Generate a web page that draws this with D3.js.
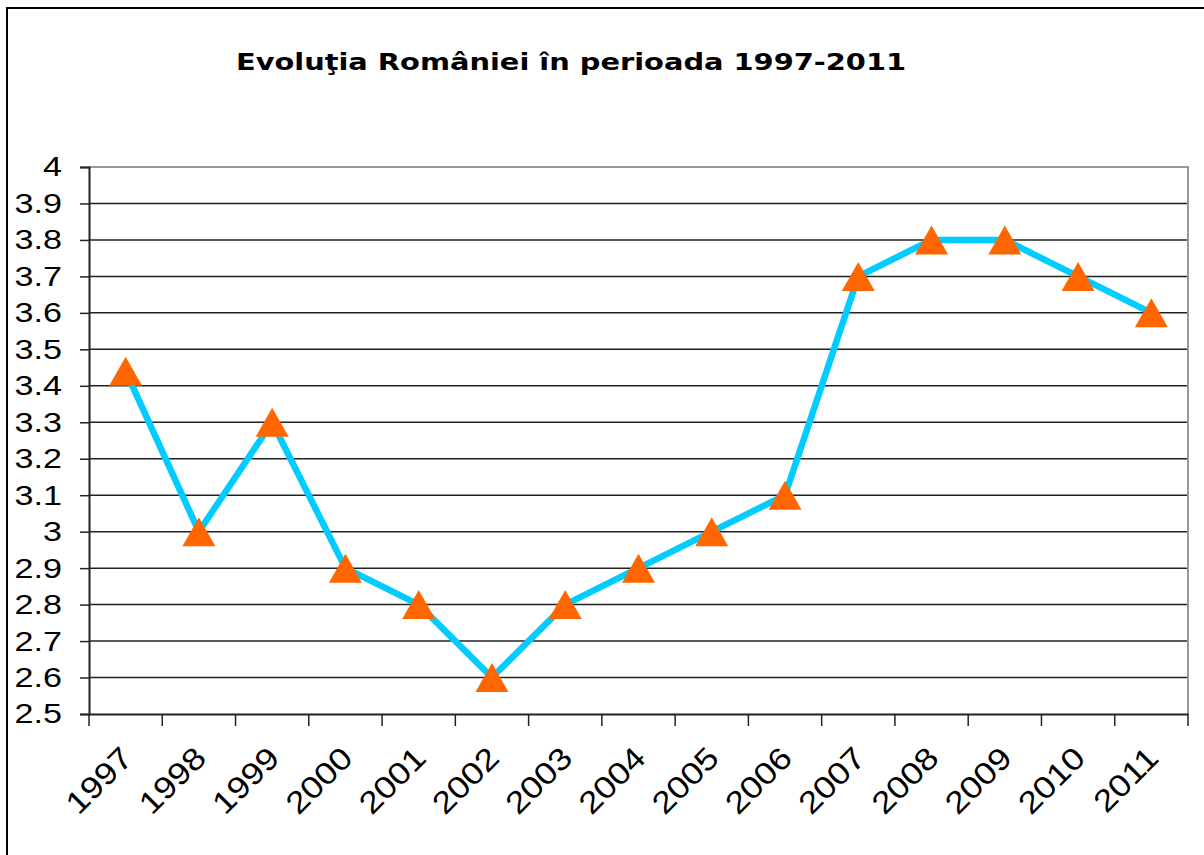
<!DOCTYPE html>
<html>
<head>
<meta charset="utf-8">
<script src="https://cdn.jsdelivr.net/npm/d3@7"></script>
<style>
  body { margin: 0; background: #fff; }
</style>
</head>
<body>
<script>
const w = 1204;
const h = 855;

// data
const years = ["1997", "1998", "1999", "2000", "2001", "2002", "2003", "2004",
  "2005", "2006", "2007", "2008", "2009", "2010", "2011"];
const values = [3.44, 3.0, 3.3, 2.9, 2.8, 2.6, 2.8, 2.9, 3.0, 3.1, 3.7, 3.8, 3.8, 3.7, 3.6];
const yTicks = [2.5, 2.6, 2.7, 2.8, 2.9, 3, 3.1, 3.2, 3.3, 3.4, 3.5, 3.6, 3.7, 3.8, 3.9, 4];
const title = "Evoluţia României în perioada 1997-2011";

const plotLeft = 89, plotRight = 1188, plotTop = 167, plotBottom = 714;
const stretch = 1.22; // the picture is a bit wider than tall

const svg = d3.select("body").append("svg").attr("width", w).attr("height", h);

// outer frame
svg.append("rect")
  .attr("x", 7).attr("y", 8)
  .attr("width", w + 10).attr("height", h + 10)
  .attr("fill", "none").attr("stroke", "#000").attr("stroke-width", 2);

svg.append("text")
  .attr("transform", "translate(571,70) scale(1.255,1)")
  .attr("text-anchor", "middle")
  .attr("font-family", "DejaVu Sans")
  .attr("font-weight", "bold")
  .attr("font-size", 23)
  .text(title);

// scales
const xScale = d3.scaleBand().domain(years).range([plotLeft, plotRight]);
const yScale = d3.scaleLinear().domain([2.5, 4]).range([plotBottom, plotTop]);

// gridlines
svg.append("g")
  .selectAll("line")
  .data(yTicks.slice(1, -1))
  .enter()
  .append("line")
  .attr("x1", plotLeft).attr("x2", plotRight)
  .attr("y1", (d) => yScale(d)).attr("y2", (d) => yScale(d))
  .attr("stroke", "#222").attr("stroke-width", 1.5);

// plot border (top + right)
svg.append("path")
  .attr("d", "M" + plotLeft + "," + yScale(4) + "H" + plotRight + "V" + plotBottom)
  .attr("fill", "none").attr("stroke", "#999").attr("stroke-width", 2);

// axes
const yAxis = d3.axisLeft(yScale).tickValues(yTicks).tickSize(9)
  .tickFormat((d) => String(d));
const gy = svg.append("g")
  .attr("transform", "translate(" + plotLeft + ",0)")
  .call(yAxis);
gy.select(".domain").attr("stroke", "#222").attr("stroke-width", 2);
gy.selectAll(".tick line").attr("stroke", "#222").attr("stroke-width", 1.5);
gy.selectAll(".tick text")
  .attr("x", 0)
  .attr("transform", "translate(-27,0) scale(" + stretch + ",1)")
  .attr("font-family", "Liberation Sans, Arial")
  .attr("font-size", 28)
  .attr("fill", "#000");

const xAxis = d3.axisBottom(xScale).tickSize(0).tickFormat("");
const gx = svg.append("g")
  .attr("transform", "translate(0," + plotBottom + ")")
  .call(xAxis);
gx.select(".domain").attr("stroke", "#222").attr("stroke-width", 2);

// category boundary ticks
svg.append("g")
  .selectAll("line")
  .data(years.concat(["end"]))
  .enter()
  .append("line")
  .attr("x1", (d, i) => plotLeft + i * xScale.step())
  .attr("x2", (d, i) => plotLeft + i * xScale.step())
  .attr("y1", plotBottom).attr("y2", plotBottom + 12)
  .attr("stroke", "#222").attr("stroke-width", 1.5);

// rotated labels
svg.append("g")
  .selectAll("text")
  .data(years)
  .enter()
  .append("text")
  .attr("transform", (d) => "translate(" + (xScale(d) + xScale.bandwidth() / 2 + 9) + "," + (plotBottom + 46) + ") rotate(-45) scale(1.15,1)")
  .attr("text-anchor", "end")
  .attr("font-family", "Liberation Sans, Arial")
  .attr("font-size", 31)
  .text((d) => d);

// line
const cx = (i) => xScale(years[i]) + xScale.bandwidth() / 2;
const line = d3.line()
  .x((d, i) => cx(i))
  .y((d) => yScale(d));

svg.append("path")
  .datum(values)
  .attr("d", line)
  .attr("fill", "none")
  .attr("stroke", "#00CCFF")
  .attr("stroke-width", 6.5)
  .attr("stroke-linejoin", "round");

// triangle markers, box centred on the point
const triangle = {
  draw(context) {
    context.moveTo(0, -14.5);
    context.lineTo(16.5, 14.5);
    context.lineTo(-16.5, 14.5);
    context.closePath();
  }
};
svg.append("g")
  .selectAll("path")
  .data(values)
  .enter()
  .append("path")
  .attr("d", d3.symbol().type(triangle))
  .attr("transform", (d, i) => "translate(" + cx(i) + "," + yScale(d) + ")")
  .attr("fill", "#FF6600");
</script>
</body>
</html>
